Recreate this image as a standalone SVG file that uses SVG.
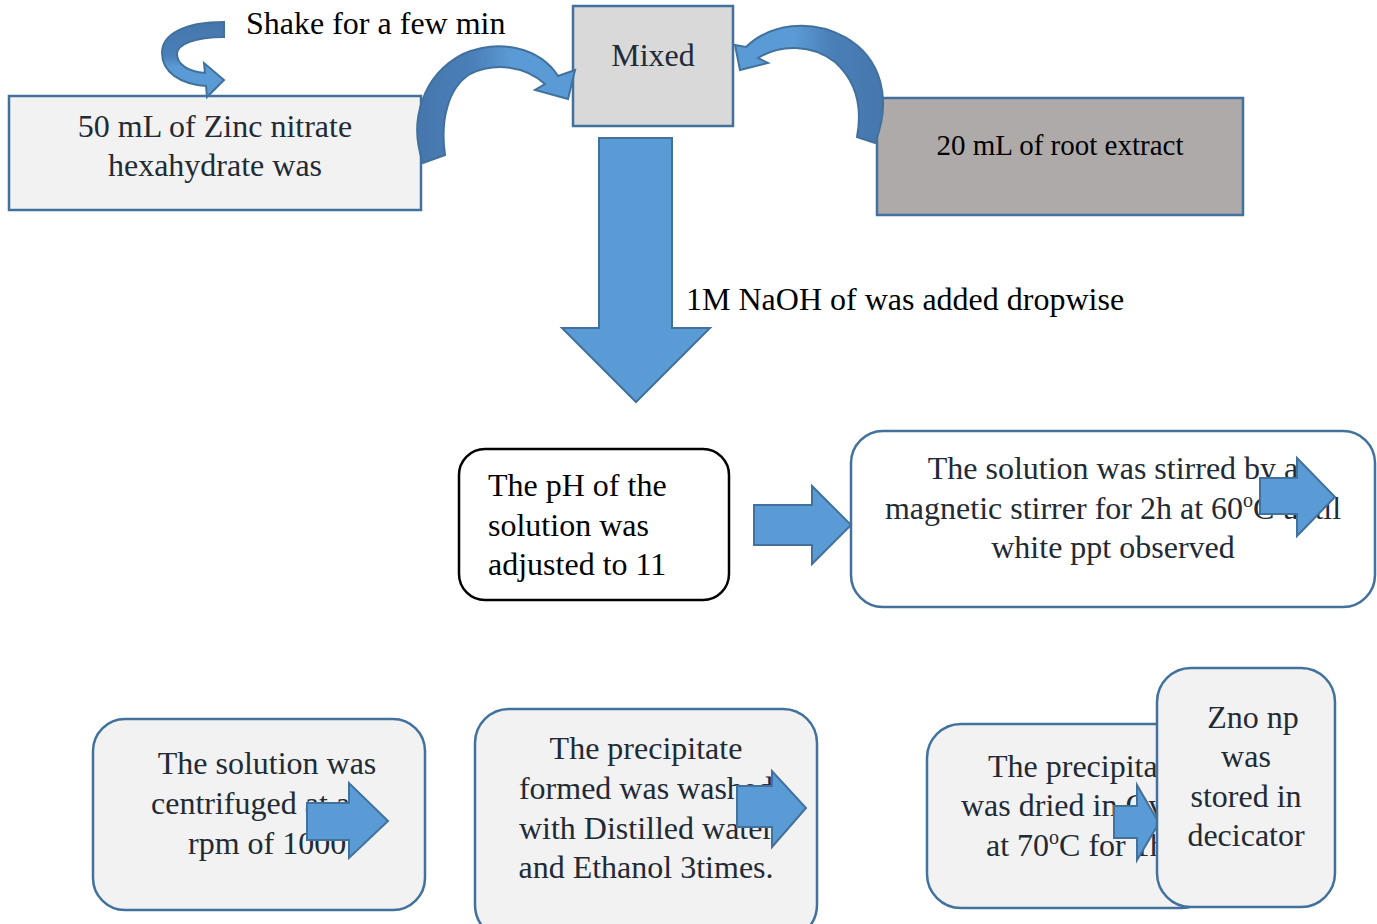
<svg xmlns="http://www.w3.org/2000/svg" width="1377" height="924" viewBox="0 0 1377 924">
<style>
text{font-family:"Liberation Serif","Times New Roman",serif;font-size:32px}
.dk{fill:#222a35}
.bk{fill:#000}
.arr{fill:#5b9bd5;stroke:#41719c;stroke-width:2;stroke-linejoin:miter}
.curl{stroke:#41719c;stroke-width:2}
.box{stroke:#41719c;stroke-width:2.5}
</style>
<defs>
<linearGradient id="gCurl" x1="0" y1="0" x2="0" y2="1">
<stop offset="0" stop-color="#4577ad"/><stop offset="0.45" stop-color="#4a7fb8"/><stop offset="0.6" stop-color="#5b9bd5"/><stop offset="1" stop-color="#5b9bd5"/>
</linearGradient>
<linearGradient id="gL" x1="0" y1="0" x2="1" y2="0">
<stop offset="0" stop-color="#4577ad"/><stop offset="0.35" stop-color="#4a7fb8"/><stop offset="0.6" stop-color="#5b9bd5"/><stop offset="1" stop-color="#5b9bd5"/>
</linearGradient>
<linearGradient id="gR" x1="1" y1="0" x2="0" y2="0">
<stop offset="0" stop-color="#4577ad"/><stop offset="0.35" stop-color="#4a7fb8"/><stop offset="0.6" stop-color="#5b9bd5"/><stop offset="1" stop-color="#5b9bd5"/>
</linearGradient>
</defs>
<rect width="1377" height="924" fill="#fff"/>

<g id="n-zinc">
<rect class="box" x="9" y="96" width="412" height="114" fill="#f2f2f2"/>
<text class="dk" x="215" y="137" text-anchor="middle">50 mL of Zinc nitrate</text>
<text class="dk" x="215" y="176" text-anchor="middle">hexahydrate was</text>
</g>

<g id="n-mixed">
<rect class="box" x="573" y="6" width="160" height="120" fill="#d9d9d9"/>
<text class="dk" x="653" y="66" text-anchor="middle">Mixed</text>
</g>

<g id="n-root">
<rect class="box" x="877" y="98" width="366" height="117" fill="#aeaaaa"/>
<text class="bk" x="1060" y="155" text-anchor="middle" style="font-size:29px">20 mL of root extract</text>
</g>

<g id="n-ph">
<rect x="459" y="449" width="270" height="151" rx="26" fill="#fff" stroke="#000" stroke-width="2.5"/>
<text class="bk" x="488" y="496">The pH of the</text>
<text class="bk" x="488" y="536">solution was</text>
<text class="bk" x="488" y="575">adjusted to 11</text>
</g>

<g id="n-stir">
<rect class="box" x="851" y="431" width="524" height="176" rx="32" fill="#fff"/>
<text class="dk" x="1113" y="479" text-anchor="middle">The solution was stirred by a</text>
<text class="dk" x="1113" y="519" text-anchor="middle">magnetic stirrer for 2h at 60<tspan font-size="20" dy="-12">o</tspan><tspan dy="12">C until</tspan></text>
<text class="dk" x="1113" y="558" text-anchor="middle">white ppt observed</text>
</g>

<g id="n-centrifuge">
<rect class="box" x="93" y="719" width="332" height="191" rx="32" fill="#f2f2f2"/>
<text class="dk" x="267" y="774" text-anchor="middle">The solution was</text>
<text class="dk" x="151" y="814">centrifuged at an</text>
<text class="dk" x="188" y="854">rpm of 1000</text>
</g>

<g id="n-wash">
<rect class="box" x="475" y="709" width="342" height="230" rx="34" fill="#f2f2f2"/>
<text class="dk" x="646" y="759" text-anchor="middle">The precipitate</text>
<text class="dk" x="646" y="799" text-anchor="middle">formed was washed</text>
<text class="dk" x="646" y="839" text-anchor="middle">with Distilled water</text>
<text class="dk" x="646" y="878" text-anchor="middle">and Ethanol 3times.</text>
</g>

<g id="n-dry">
<rect class="box" x="927" y="724" width="288" height="184" rx="34" fill="#f2f2f2"/>
<text class="dk" x="988" y="777">The precipitate</text>
<text class="dk" x="961" y="816">was dried in Oven</text>
<text class="dk" x="986" y="856">at 70<tspan font-size="20" dy="-12">o</tspan><tspan dy="12">C for 1h</tspan></text>
</g>

<g id="connectors">
<path class="curl" fill="url(#gCurl)" d="M224,22 C185,22 162,34 162,53 C162,72 180,84 206,86 L207,97 L224,80 L204,63 L205,73 C188,72 177,64 177,54 C177,44 195,37 224,37 Z"/>
<path class="curl" fill="url(#gL)" d="M423,163 C408,120 423,75 463,54 C500,38 540,48 558,76 L575,70 L568,99 L535,90 L545,84 C525,66 495,62 470,74 C448,88 440,120 445,155 Z"/>
<path class="curl" fill="url(#gR)" d="M875,143 C892,100 882,58 845,37 C810,18 770,24 746,47 L735,45 L740,70 L768,63 L758,58 C780,44 812,44 835,62 C855,80 863,105 857,137 Z"/>
<path class="arr" d="M599,138 L672,138 L672,328 L710,328 L636,402 L562,328 L599,328 Z"/>
<path class="arr" d="M754,505 L812,505 L812,486 L851,525 L812,564 L812,545 L754,545 Z"/>
<path class="arr" d="M1260,478 L1297,478 L1297,458 L1335,497 L1297,536 L1297,514 L1260,514 Z"/>
<path class="arr" d="M307,803 L349,803 L349,783 L388,821 L349,858 L349,840 L307,840 Z"/>
<path class="arr" d="M737,786 L772,786 L772,771 L806,808 L772,847 L772,827 L737,827 Z"/>
<path class="arr" d="M1114,806 L1137,806 L1137,785 L1159,823 L1137,860 L1137,838 L1114,838 Z"/>
<text class="bk" x="246" y="34">Shake for a few min</text>
<text class="bk" x="686" y="310">1M NaOH of was added dropwise</text>
</g>

<g id="n-zno">
<rect class="box" x="1157" y="668" width="178" height="239" rx="34" fill="#f2f2f2"/>
<text class="dk" x="1253" y="728" text-anchor="middle">Zno np</text>
<text class="dk" x="1246" y="767" text-anchor="middle">was</text>
<text class="dk" x="1246" y="807" text-anchor="middle">stored in</text>
<text class="dk" x="1246" y="846" text-anchor="middle">decicator</text>
</g>
</svg>
